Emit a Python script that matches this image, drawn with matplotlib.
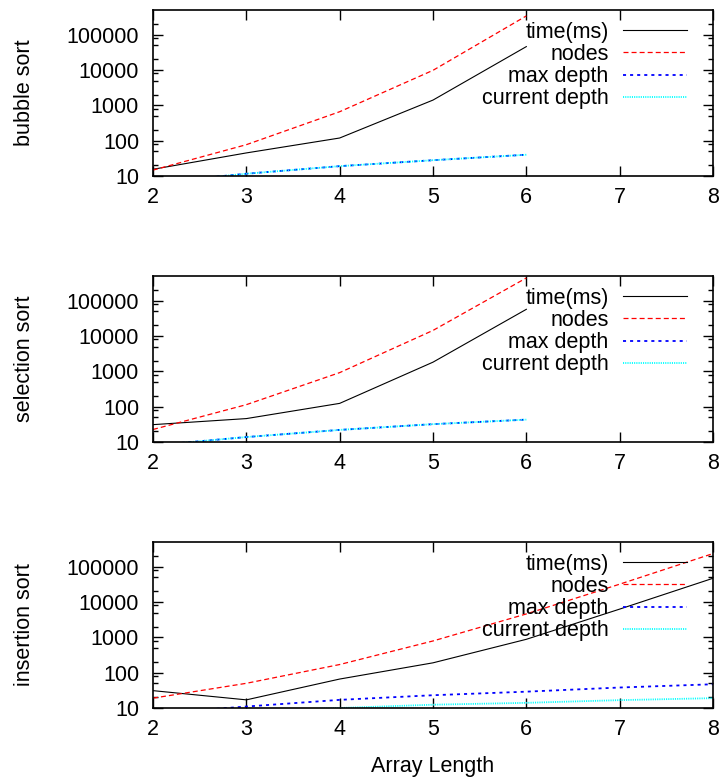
import matplotlib
matplotlib.use("Agg")
import matplotlib.pyplot as plt

plt.rcParams['font.family'] = ['Liberation Sans', 'DejaVu Sans']
plt.rcParams['font.size'] = 15.5
plt.rcParams['lines.scale_dashes'] = False

lengths_short = [2, 3, 4, 5, 6]
lengths_long = [2, 3, 4, 5, 6, 7, 8]

bubble_time = [15.5, 45, 119, 1410, 46000]
bubble_nodes = [14.7, 77, 660, 9800, 340000]
bubble_max_depth = [6.4, 11.6, 19, 28, 40]
bubble_cur_depth = [6.4, 11.6, 19, 28, 40]

selection_time = [31, 46, 124, 1820, 57000]
selection_nodes = [22.6, 114, 920, 14400, 440000]
selection_max_depth = [8, 13.8, 22, 32, 43]
selection_cur_depth = [8, 13.8, 22, 32, 43]

insertion_time = [31, 17, 66, 190, 880, 6300, 47000]
insertion_nodes = [19, 50, 170, 790, 4600, 32000, 235000]
insertion_max_depth = [7, 11, 17, 23, 29, 38, 47]
insertion_cur_depth = [6, 8, 10, 12.4, 14, 16.7, 19]

panel_names = ['bubble sort', 'selection sort', 'insertion sort']
series_names = ['time(ms)', 'nodes', 'max depth', 'current depth']
y_ticks = [10, 100, 1000, 10000, 100000]
y_tick_labels = ['10', '100', '1000', '10000', '100000']
x_ticks = [2, 3, 4, 5, 6, 7, 8]

panels = [
    (lengths_short, [bubble_time, bubble_nodes, bubble_max_depth, bubble_cur_depth]),
    (lengths_short, [selection_time, selection_nodes, selection_max_depth, selection_cur_depth]),
    (lengths_long, [insertion_time, insertion_nodes, insertion_max_depth, insertion_cur_depth]),
]

# gnuplot-like line styles
styles = [
    dict(color='black', linestyle='-', linewidth=0.8),
    dict(color='red', linestyle=(0, (3.6, 2.2)), linewidth=0.9),
    dict(color='blue', linestyle=(0, (2.2, 2.9)), linewidth=1.3),
    dict(color='cyan', linestyle=(0, (0.8, 0.8)), linewidth=1.3),
]

W, H = 722, 780
fig = plt.figure(figsize=(W / 100, H / 100), dpi=100)

left, right = 153, 713
tops = [10, 276, 542]
height = 166

minor = []
for d in [1, 10, 100, 1000, 10000, 100000]:
    for m in [2, 5, 8]:
        minor.append(d * m)

for i, (xs, ys) in enumerate(panels):
    ax = fig.add_axes([left / W, (H - tops[i] - height) / H,
                       (right - left) / W, height / H])
    for name, y, st in zip(series_names, ys, styles):
        ax.plot(xs, y, label=name, **st)

    ax.set_yscale('log')
    ax.set_xlim(2, 8)
    ax.set_ylim(10, 5e5)
    ax.set_xticks(x_ticks)
    ax.set_yticks(y_ticks)
    ax.set_yticklabels(y_tick_labels)
    ax.set_yticks([v for v in minor if 10 < v < 5e5], minor=True)
    ax.yaxis.set_minor_formatter(matplotlib.ticker.NullFormatter())
    ax.tick_params(axis='both', which='major', direction='in', length=7.2,
                   width=1.0, top=True, right=True)
    ax.tick_params(axis='y', which='minor', direction='in', length=3.6,
                   width=1.0, right=True, left=True)
    ax.tick_params(axis='x', which='minor', bottom=False, top=False)
    ax.tick_params(axis='y', which='major', pad=10)
    ax.tick_params(axis='x', which='major', pad=8)
    for sp in ax.spines.values():
        sp.set_linewidth(1.2)

    ax.set_ylabel(panel_names[i])
    ax.yaxis.set_label_coords(-0.211, 0.5)

    ax.legend(loc='upper right', bbox_to_anchor=(0.954, 0.928), frameon=False,
              markerfirst=False, handlelength=3.0, handletextpad=0.65,
              labelspacing=0.05, borderpad=0, borderaxespad=0)

    if i == 2:
        ax.set_xlabel('Array Length')
        ax.xaxis.set_label_coords(0.5, -0.29)

fig.savefig('out.png', dpi=100)
